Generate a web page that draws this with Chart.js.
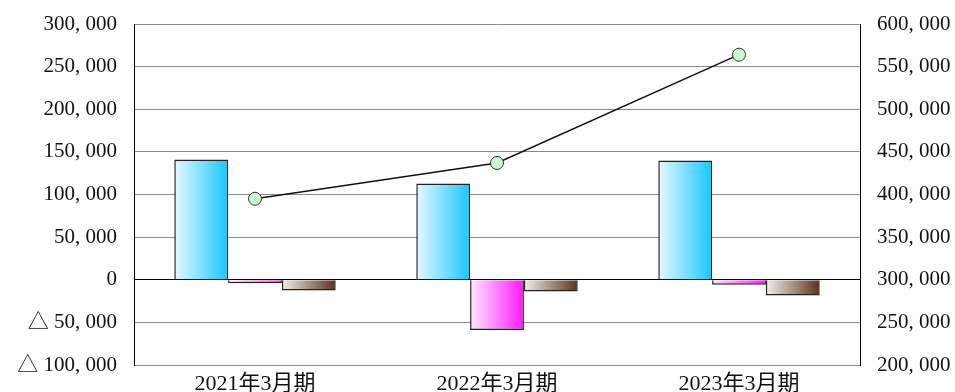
<!DOCTYPE html>
<html>
<head>
<meta charset="utf-8">
<script src="https://cdn.jsdelivr.net/npm/chart.js@4/dist/chart.umd.min.js"></script>
<style>
  html, body { margin: 0; padding: 0; background: #fff; }
  #wrap { width: 955px; height: 392px; }
</style>
</head>
<body>
<div id="wrap"><canvas id="c" width="955" height="392"></canvas></div>
<script>
// Fiscal periods
const categories = ['2021年3月期', '2022年3月期', '2023年3月期'];
// Bar series (left axis)
const seriesBlue = [141000, 113000, 140000];
const seriesMagenta = [-4000, -59000, -6000];
const seriesBrown = [-12500, -13700, -18400];
// Line series (right axis)
const seriesLine = [395000, 437000, 564000];

// Horizontal gradient endpoints for each bar series
const gradBlue = ['rgb(232,249,255)', 'rgb(22,200,255)'];
const gradMagenta = ['rgb(255,232,255)', 'rgb(255,24,255)'];
const gradBrown = ['rgb(242,240,236)', 'rgb(92,50,24)'];

const CAT_PCT = 0.667;
const BAR_COUNT = 3;

function fmt(n) {
  return Math.abs(n).toLocaleString('en-US').replace(/,/g, ', ');
}

function barFill(colors, pos) {
  return function (ctx) {
    const chart = ctx.chart;
    const xs = chart.scales && chart.scales.x;
    if (ctx.type !== 'data' || !xs || !chart.chartArea) return colors[1];
    const catW = xs.width / categories.length;
    const group = catW * CAT_PCT;
    const bw = group / BAR_COUNT;
    const left = xs.getPixelForValue(ctx.dataIndex) - group / 2 + pos * bw;
    const g = chart.ctx.createLinearGradient(left, 0, left + bw, 0);
    g.addColorStop(0, colors[0]);
    g.addColorStop(1, colors[1]);
    return g;
  };
}

const tickFont = { family: '"Liberation Serif", "Noto Sans CJK JP", serif', size: 21 };

new Chart(document.getElementById('c'), {
  data: {
    labels: categories,
    datasets: [
      {
        type: 'line',
        data: seriesLine,
        yAxisID: 'y2',
        borderColor: '#111',
        borderWidth: 1.4,
        pointRadius: 6.5,
        pointBackgroundColor: 'rgb(204,246,204)',
        pointBorderColor: '#333',
        pointBorderWidth: 1,
        tension: 0
      },
      {
        type: 'bar', data: seriesBlue, yAxisID: 'y',
        backgroundColor: barFill(gradBlue, 0),
        borderColor: '#222', borderWidth: 1.5,
        categoryPercentage: CAT_PCT, barPercentage: 1
      },
      {
        type: 'bar', data: seriesMagenta, yAxisID: 'y',
        backgroundColor: barFill(gradMagenta, 1),
        borderColor: '#222', borderWidth: 1.5,
        categoryPercentage: CAT_PCT, barPercentage: 1
      },
      {
        type: 'bar', data: seriesBrown, yAxisID: 'y',
        backgroundColor: barFill(gradBrown, 2),
        borderColor: '#222', borderWidth: 1.5,
        categoryPercentage: CAT_PCT, barPercentage: 1
      }
    ]
  },
  options: {
    responsive: false,
    animation: false,
    layout: { padding: { top: 24, left: 0, right: 0, bottom: 0 } },
    plugins: { legend: { display: false }, tooltip: { enabled: false } },
    scales: {
      x: {
        grid: { display: false, drawTicks: false },
        border: { display: false },
        ticks: {
          color: '#111',
          font: { family: '"Liberation Serif", "Noto Sans CJK JP", serif', size: 22 },
          padding: 6,
          maxRotation: 0
        },
        afterFit(s) { s.height = 27; }
      },
      y: {
        position: 'left',
        min: -100000, max: 300000,
        grid: {
          drawTicks: true,
          tickLength: 17,
          tickColor: 'rgba(0,0,0,0)',
          color: (c) => (c.tick && c.tick.value === 0 ? '#000' : '#8a8a8a'),
          lineWidth: 1
        },
        border: { display: true, color: '#000', width: 1 },
        ticks: {
          stepSize: 50000,
          color: '#111',
          font: tickFont,
          padding: 0,
          callback: (v) => (v < 0 ? '△ ' + fmt(v) : fmt(v))
        },
        afterFit(s) { s.width = 134; }
      },
      y2: {
        position: 'right',
        min: 200000, max: 600000,
        grid: { display: false, drawTicks: true, tickLength: 17 },
        border: { display: true, color: '#000', width: 1 },
        ticks: {
          stepSize: 50000,
          color: '#111',
          font: tickFont,
          padding: 0,
          callback: (v) => fmt(v)
        },
        afterFit(s) { s.width = 95; }
      }
    }
  }
});
</script>
</body>
</html>
